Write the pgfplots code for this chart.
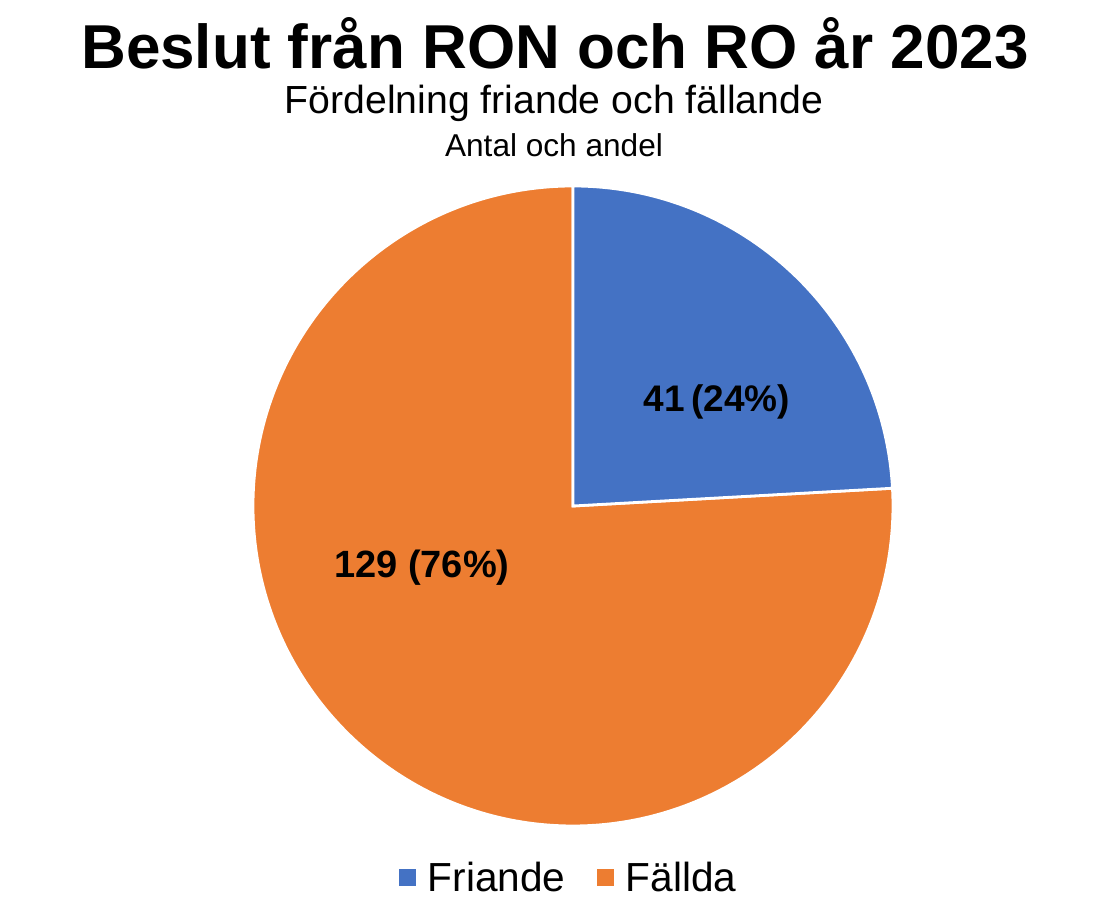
\documentclass[border=0pt]{standalone}
\usepackage{fontspec}
\setmainfont{Liberation Sans}
\usepackage{pgfplots}
\usepackage{pgfplotstable}
\pgfplotsset{compat=1.18}
\definecolor{pieblue}{HTML}{4472C4}
\definecolor{pieorange}{HTML}{ED7D31}

\pgfplotstableread{
label value
Friande 41
Fällda 129
}\piedata

\begin{document}
\begin{tikzpicture}
\pgfplotstablegetelem{0}{value}\of\piedata \let\va\pgfplotsretval
\pgfplotstablegetelem{1}{value}\of\piedata \let\vb\pgfplotsretval
\pgfmathsetmacro{\tot}{\va+\vb}
\pgfmathsetmacro{\aone}{90-\va/\tot*360}
\pgfmathtruncatemacro{\pa}{round(\va/\tot*100)}
\pgfmathtruncatemacro{\pb}{round(\vb/\tot*100)}
\path[use as bounding box] (0pt,0pt) rectangle (550pt,457pt);
% titles (pixel y -> (914-y)/2 pt)
\node[font=\fontsize{31}{36}\selectfont\bfseries] at (277.5pt,{(914-43)*0.5pt}) {Beslut från RON och RO år 2023};
\node[font=\fontsize{19.6}{23}\selectfont] at (277pt,{(914-103)*0.5pt}) {Fördelning friande och fällande};
\node[font=\fontsize{15.8}{19}\selectfont] at (277pt,{(914-145)*0.5pt}) {Antal och andel};
\begin{axis}[
  at={(126.5pt,44pt)}, anchor=south west,
  width=320pt, height=320pt, scale only axis,
  hide axis, clip=false,
  xmin=-1, xmax=1, ymin=-1, ymax=1,
  legend columns=2,
  legend style={draw=none, fill=none, at={(0.495,-0.081)}, anchor=center,
    font=\fontsize{20.3}{24}\selectfont,
    /tikz/every even column/.append style={column sep=14pt}},
]
\fill[pieorange, draw=white, line width=1.4pt] (axis cs:0,0) -- (axis cs:0,1) arc[start angle=90, end angle={\aone+360}, radius=160pt] -- cycle;
\fill[pieblue, draw=white, line width=1.4pt] (axis cs:0,0) -- (axis cs:0,1) arc[start angle=90, end angle=\aone, radius=160pt] -- cycle;
\node[font=\fontsize{18.5}{22}\selectfont\bfseries] at (axis cs:0.450,0.325) {\va\,(\pa\%)};
\node[font=\fontsize{19}{22}\selectfont\bfseries] at (axis cs:-0.472,-0.194) {\vb{} (\pb\%)};
\addlegendimage{legend image code/.code={\fill[pieblue] (0pt,-4pt) rectangle (8pt,4pt); \path[draw=none] (0pt,0pt) -- (12pt,0pt);}}
\addlegendentry{Friande}
\addlegendimage{legend image code/.code={\fill[pieorange] (0pt,-4pt) rectangle (8pt,4pt); \path[draw=none] (0pt,0pt) -- (12pt,0pt);}}
\addlegendentry{Fällda}
\end{axis}
\end{tikzpicture}
\end{document}
